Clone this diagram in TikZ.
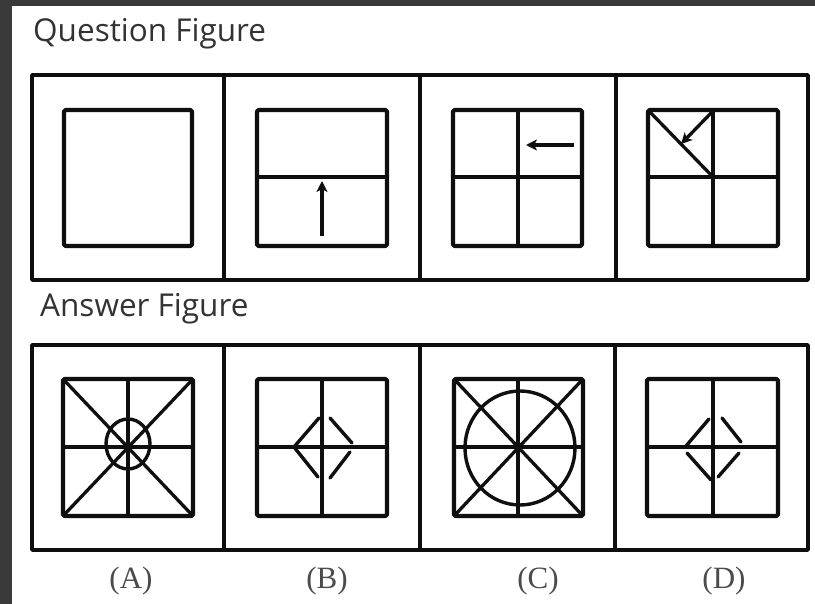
\documentclass[tikz,border=0pt]{standalone}
\usepackage{fontspec}
\setmainfont{Liberation Serif}
\newfontfamily\headfont{Open Sans}
\usetikzlibrary{arrows.meta}
\definecolor{frame}{RGB}{58,58,58}
\definecolor{ink}{RGB}{15,15,15}
\tikzset{
  outerline/.style={line width=3.6pt, draw=ink},
  sqline/.style={line width=4.2pt, draw=ink, rounded corners=1.5pt},
  midline/.style={line width=3.3pt, draw=ink},
  arr/.style={line width=3.3pt, draw=ink, -{Stealth[length=11pt,width=11pt,inset=3pt]}},
  seg/.style={line width=3.4pt, draw=ink, line cap=round},
  heading/.style={font=\headfont\fontsize{31.5}{33}\selectfont, text=ink!85, inner sep=0pt, anchor=base west},
  optlabel/.style={font=\fontsize{31}{33}\selectfont, text=ink!75, inner sep=0pt, anchor=base}
}
\begin{document}
\begin{tikzpicture}[x=1pt,y=-1pt,line join=round]
\useasboundingbox (0,0) rectangle (815,604);
\fill[white] (0,0) rectangle (815,604);
\fill[frame] (0,0) rectangle (815,6);
\fill[frame] (0,0) rectangle (12,604);
% headings
\node[heading] (qhead) at (33,42) {Question Figure};
\node[heading] (ahead) at (40,317) {Answer Figure};
% outer boxes
\draw[outerline] (32,75) rectangle (808,280);
\draw[outerline] (224,75) -- (224,280) (420,75) -- (420,280) (616,75) -- (616,280);
\draw[outerline] (32,345) rectangle (808,550);
\draw[outerline] (224,345) -- (224,550) (420,345) -- (420,550) (615,345) -- (615,550);
% question figure 1
\draw[sqline] (64,110) rectangle (192,246);
% question figure 2
\draw[midline] (257,177) -- (387,177);
\draw[sqline] (257,110) rectangle (387,246);
\draw[arr] (322,236) -- (322,181);
% question figure 3
\draw[midline] (453,177) -- (582,177) (518,110) -- (518,246);
\draw[sqline] (453,110) rectangle (582,246);
\draw[arr] (574,145) -- (526,145);
% question figure 4
\draw[midline] (648,177) -- (778,177) (713,110) -- (713,246);
\draw[midline] (648,110) -- (713,177);
\draw[sqline] (648,110) rectangle (778,246);
\draw[arr] (713,111) -- (681,144);
% answer A
\draw[midline] (63,447) -- (193,447) (128,379) -- (128,516);
\draw[midline] (63,379) -- (193,516) (193,379) -- (63,516);
\draw[seg] (128,444) ellipse [x radius=22, y radius=25];
\draw[sqline] (63,379) rectangle (193,516);
% answer B
\draw[midline] (257,447) -- (387,447) (322,379) -- (322,516);
\draw[seg] (319,418) -- (294,447) -- (318,477);
\draw[seg] (330,418) -- (352,443);
\draw[seg] (350,452) -- (330,478);
\draw[sqline] (257,379) rectangle (387,516);
% answer C
\draw[midline] (454,447) -- (583,447) (518,379) -- (518,516);
\draw[midline] (454,379) -- (583,516) (583,379) -- (454,516);
\draw[seg] (520,448) ellipse [x radius=55, y radius=57];
\draw[sqline] (454,379) rectangle (583,516);
% answer D
\draw[midline] (647,447) -- (778,447) (713,379) -- (713,516);
\draw[seg] (686,446) -- (709,419);
\draw[seg] (722,418) -- (741,442);
\draw[seg] (687,453) -- (711,480);
\draw[seg] (739,453) -- (718,477);
\draw[sqline] (647,379) rectangle (778,516);
% option labels
\node[optlabel] (la) at (131,588) {(A)};
\node[optlabel] (lb) at (327,588) {(B)};
\node[optlabel] (lc) at (538,588) {(C)};
\node[optlabel] (ld) at (724,588) {(D)};
\end{tikzpicture}
\end{document}
